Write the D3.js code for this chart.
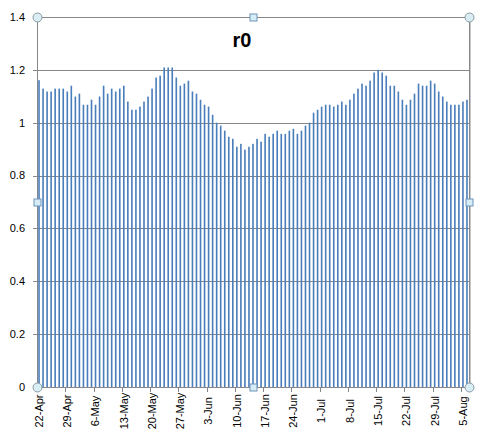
<!DOCTYPE html>
<html>
<head>
<meta charset="utf-8">
<script src="https://cdnjs.cloudflare.com/ajax/libs/d3/7.8.5/d3.min.js"></script>
<style>
  body { margin: 0; background: #fff; }
  text { font-family: "Liberation Sans", Arial, sans-serif; }
</style>
</head>
<body>
<div id="chart"></div>
<script>
// daily r0 values, 22-Apr .. 6-Aug
var firstDay = "2020-04-22";
var r0 = [
  1.161, 1.129, 1.118, 1.118, 1.129, 1.129, 1.129, 1.118, 1.140, 1.099,
  1.110, 1.068, 1.068, 1.087, 1.068, 1.099, 1.140, 1.110, 1.129, 1.118,
  1.129, 1.140, 1.080, 1.049, 1.049, 1.061, 1.080, 1.099, 1.129, 1.171,
  1.178, 1.209, 1.209, 1.209, 1.171, 1.140, 1.148, 1.159, 1.118, 1.110,
  1.087, 1.068, 1.061, 1.030, 1.000, 0.989, 0.970, 0.947, 0.939, 0.909,
  0.920, 0.898, 0.909, 0.920, 0.939, 0.928, 0.958, 0.947, 0.958, 0.970,
  0.958, 0.958, 0.970, 0.977, 0.958, 0.970, 0.989, 1.000, 1.038, 1.049,
  1.061, 1.068, 1.068, 1.061, 1.068, 1.080, 1.068, 1.087, 1.110, 1.129,
  1.148, 1.140, 1.159, 1.190, 1.200, 1.190, 1.178, 1.140, 1.140, 1.118,
  1.087, 1.068, 1.087, 1.110, 1.148, 1.140, 1.140, 1.159, 1.148, 1.118,
  1.099, 1.080, 1.068, 1.068, 1.068, 1.080, 1.087
];
var yTicks = [0, 0.2, 0.4, 0.6, 0.8, 1, 1.2, 1.4];
var xTickLabels = ["22-Apr", "29-Apr", "6-May", "13-May", "20-May", "27-May", "3-Jun",
  "10-Jun", "17-Jun", "24-Jun", "1-Jul", "8-Jul", "15-Jul", "22-Jul", "29-Jul", "5-Aug"];

var parse = d3.timeParse("%Y-%m-%d");
var start = parse(firstDay);
var days = r0.map(function(v, i) { return d3.timeDay.offset(start, i); });
var data = r0.map(function(v, i) { return {day: days[i], value: v}; });
var fmt = d3.timeFormat("%-d-%b");

var width = 482, height = 436;
var plot = {left: 37, right: 469, top: 17, bottom: 387};

var svg = d3.select("#chart").append("svg")
    .attr("width", width)
    .attr("height", height);

var x = d3.scaleBand()
    .domain(days)
    .range([plot.left, plot.right])
    .paddingInner(0.6)
    .paddingOuter(0.3);
var step = x.step();
// tick position = start of the day's slot
function slot(d) { return x(d) - step * 0.3; }

var y = d3.scaleLinear().domain([0, 1.4]).range([plot.bottom, plot.top]);

// gridlines
svg.append("g")
    .selectAll("line")
    .data(yTicks)
    .enter().append("line")
    .attr("x1", plot.left - 4)
    .attr("x2", plot.right)
    .attr("y1", function(d) { return Math.round(y(d)) + 0.5; })
    .attr("y2", function(d) { return Math.round(y(d)) + 0.5; })
    .attr("stroke", "#878787")
    .attr("stroke-width", 1);

// y labels
svg.append("g")
    .selectAll("text")
    .data(yTicks)
    .enter().append("text")
    .attr("x", 25)
    .attr("y", function(d) { return y(d); })
    .attr("dy", "0.35em")
    .attr("text-anchor", "end")
    .attr("font-size", 11)
    .attr("fill", "#000")
    .text(function(d) { return d3.format("~g")(d); });

// bars
svg.append("g")
    .selectAll("rect")
    .data(data)
    .enter().append("rect")
    .attr("x", function(d) { return x(d.day); })
    .attr("width", x.bandwidth())
    .attr("y", function(d) { return y(d.value); })
    .attr("height", function(d) { return y(0) - y(d.value); })
    .attr("fill", "#4a7ebb");

// plot border
svg.append("rect")
    .attr("x", plot.left + 0.5)
    .attr("y", plot.top + 0.5)
    .attr("width", plot.right - plot.left)
    .attr("height", plot.bottom - plot.top)
    .attr("fill", "none")
    .attr("stroke", "#888");
svg.append("line")
    .attr("x1", plot.right + 1.5).attr("x2", plot.right + 1.5)
    .attr("y1", plot.top + 4).attr("y2", plot.bottom)
    .attr("stroke", "#c8c8c8");

// x ticks and labels
var tickDays = days.filter(function(d) { return xTickLabels.indexOf(fmt(d)) >= 0; });
svg.append("g")
    .selectAll("line")
    .data(tickDays)
    .enter().append("line")
    .attr("x1", function(d) { return Math.round(slot(d)) + 0.5; })
    .attr("x2", function(d) { return Math.round(slot(d)) + 0.5; })
    .attr("y1", plot.bottom)
    .attr("y2", plot.bottom + 5)
    .attr("stroke", "#878787");

svg.append("g")
    .selectAll("text")
    .data(tickDays)
    .enter().append("text")
    .attr("transform", function(d) {
      return "translate(" + (slot(d) + 2) + "," + 411 + ") rotate(-90)";
    })
    .attr("dy", "0.35em")
    .attr("text-anchor", "middle")
    .attr("font-size", 11)
    .attr("fill", "#000")
    .text(function(d) { return fmt(d); });

// title
svg.append("text")
    .attr("x", 242)
    .attr("y", 47)
    .attr("text-anchor", "middle")
    .attr("font-size", 20)
    .attr("font-weight", "bold")
    .text("r0");

// selection handles
var cx = [plot.left, (plot.left + plot.right) / 2, plot.right];
var cy = [plot.top, (plot.top + plot.bottom) / 2, plot.bottom];
var handles = [];
cx.forEach(function(hx, i) {
  cy.forEach(function(hy, j) {
    if (i == 1 && j == 1) return;
    handles.push({x: hx, y: hy, corner: (i != 1 && j != 1)});
  });
});
svg.append("g")
    .selectAll("circle")
    .data(handles.filter(function(h) { return h.corner; }))
    .enter().append("circle")
    .attr("cx", function(h) { return h.x + 0.5; })
    .attr("cy", function(h) { return h.y + 0.5; })
    .attr("r", 4.5)
    .attr("fill", "#d8eef4")
    .attr("stroke", "#8c9aa3");
svg.append("g")
    .selectAll("rect")
    .data(handles.filter(function(h) { return !h.corner; }))
    .enter().append("rect")
    .attr("x", function(h) { return h.x - 3; })
    .attr("y", function(h) { return h.y - 3; })
    .attr("width", 7)
    .attr("height", 7)
    .attr("fill", "#d6ecf7")
    .attr("stroke", "#6f94b8");
</script>
</body>
</html>
